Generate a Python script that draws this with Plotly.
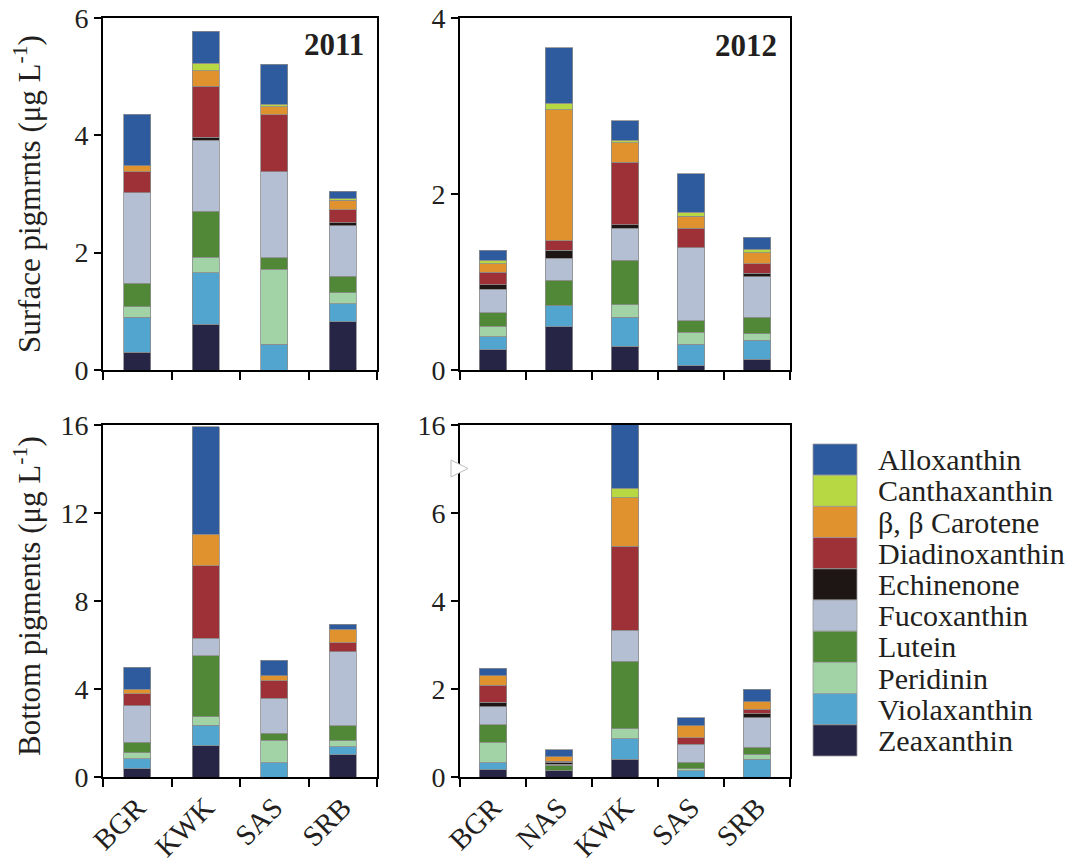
import plotly.graph_objects as go

W, H = 1086, 859

# ---------------- data ----------------
sites_2011 = ["BGR", "KWK", "SAS", "SRB"]
sites_2012 = ["BGR", "NAS", "KWK", "SAS", "SRB"]

# stacking order, bottom -> top
pigments = ["Zeaxanthin", "Violaxanthin", "Peridinin", "Lutein", "Fucoxanthin",
            "Echinenone", "Diadinoxanthin", "β, β Carotene", "Canthaxanthin", "Alloxanthin"]
colors = ["#272546", "#51a5ce", "#a1d3a6", "#508837", "#b4bfd3",
          "#1e1614", "#9e3037", "#e0922f", "#b8d843", "#2d5b9e"]

# rows follow `pigments`, columns follow the site lists (µg/L)
surface_2011 = [
    [0.30, 0.78, 0.00, 0.82],
    [0.60, 0.88, 0.44, 0.31],
    [0.18, 0.26, 1.28, 0.19],
    [0.40, 0.79, 0.19, 0.28],
    [1.54, 1.21, 1.47, 0.86],
    [0.00, 0.05, 0.00, 0.05],
    [0.36, 0.87, 0.97, 0.22],
    [0.10, 0.26, 0.14, 0.16],
    [0.00, 0.13, 0.04, 0.03],
    [0.88, 0.54, 0.68, 0.13],
]
surface_2012 = [
    [0.23, 0.49, 0.27, 0.05, 0.12],
    [0.15, 0.24, 0.33, 0.24, 0.22],
    [0.12, 0.00, 0.14, 0.14, 0.07],
    [0.15, 0.29, 0.51, 0.13, 0.19],
    [0.27, 0.25, 0.36, 0.83, 0.46],
    [0.05, 0.09, 0.04, 0.00, 0.04],
    [0.14, 0.11, 0.71, 0.22, 0.11],
    [0.10, 1.49, 0.22, 0.14, 0.12],
    [0.04, 0.07, 0.03, 0.04, 0.04],
    [0.11, 0.63, 0.22, 0.44, 0.14],
]
bottom_2011 = [
    [0.38, 1.43, 0.00, 1.02],
    [0.46, 0.93, 0.64, 0.35],
    [0.26, 0.37, 1.04, 0.28],
    [0.47, 2.79, 0.30, 0.68],
    [1.66, 0.78, 1.59, 3.37],
    [0.00, 0.00, 0.00, 0.00],
    [0.55, 3.30, 0.81, 0.40],
    [0.20, 1.44, 0.22, 0.61],
    [0.00, 0.00, 0.00, 0.00],
    [1.02, 4.89, 0.70, 0.23],
]
bottom_2012 = [
    [0.17, 0.14, 0.40, 0.00, 0.00],
    [0.15, 0.00, 0.47, 0.14, 0.40],
    [0.47, 0.00, 0.23, 0.05, 0.12],
    [0.40, 0.13, 1.53, 0.14, 0.16],
    [0.41, 0.02, 0.71, 0.41, 0.67],
    [0.10, 0.05, 0.00, 0.00, 0.09],
    [0.39, 0.02, 1.91, 0.15, 0.10],
    [0.21, 0.10, 1.10, 0.27, 0.17],
    [0.00, 0.00, 0.21, 0.00, 0.00],
    [0.17, 0.16, 9.44, 0.19, 0.28],
]

# ---------------- helpers ----------------
OFF = 8  # page body margin in the browser

def px(x):
    return (x - OFF) / W

def py(y):
    return 1 - (y - OFF) / H

FONT = "Liberation Serif, Times New Roman, serif"
TXT = "#231f20"

panels = [
    ("x", "y", sites_2011, surface_2011, 0.39),
    ("x2", "y2", sites_2012, surface_2012, 0.41),
    ("x3", "y3", sites_2011, bottom_2011, 0.39),
    ("x4", "y4", sites_2012, bottom_2012, 0.41),
]

fig = go.Figure()
for xa, ya, cats, rows, bw in panels:
    for name, col, vals in zip(pigments, colors, rows):
        fig.add_trace(go.Bar(
            x=cats, y=vals, name=name, width=bw,
            marker=dict(color=col, line=dict(color="#8c8c8c", width=0.8)),
            xaxis=xa, yaxis=ya, showlegend=False,
        ))

def xax(dom, anchor, ncat, labels):
    return dict(
        domain=dom, anchor=anchor, range=[-0.5, ncat - 0.5],
        showline=True, linecolor="black", linewidth=2, mirror=True,
        ticks="outside", ticklen=8, tickwidth=2, tickcolor="black",
        tickson="boundaries", showgrid=False, zeroline=False,
        showticklabels=labels, tickangle=-45,
        tickfont=dict(family=FONT, size=29, color=TXT),
    )

def yax(dom, anchor, rng, tv, tt=None):
    d = dict(
        domain=dom, anchor=anchor, range=rng, tickvals=tv,
        showline=True, linecolor="black", linewidth=2, mirror=True,
        ticks="outside", ticklen=7, tickwidth=2, tickcolor="black",
        showgrid=False, zeroline=False, ticklabeloverflow="allow",
        tickfont=dict(family=FONT, size=28, color=TXT),
    )
    if tt is not None:
        d["ticktext"] = tt
    return d

xl = [px(103), px(377)]
xr = [px(460), px(790)]
yt = [py(370), py(18)]
yb = [py(777), py(425)]

shapes = []
annotations = []

# break mark on the bottom-right y axis
shapes.append(dict(
    type="path", xref="paper", yref="paper",
    path=f"M {px(451)},{py(460)} L {px(468)},{py(468.5)} L {px(451)},{py(477)} Z",
    fillcolor="white", line=dict(color="#bdbdbd", width=1),
))

# panel year labels
annotations.append(dict(text="<b>2011</b>", x=px(366), y=py(44), xref="paper", yref="paper",
                        xanchor="right", yanchor="middle", showarrow=False,
                        font=dict(family=FONT, size=31, color=TXT)))
annotations.append(dict(text="<b>2012</b>", x=px(779), y=py(45), xref="paper", yref="paper",
                        xanchor="right", yanchor="middle", showarrow=False,
                        font=dict(family=FONT, size=31, color=TXT)))

# y-axis titles
annotations.append(dict(text="Surface pigmrnts (μg L<sup>-1</sup>)", x=px(27), y=py(194),
                        xref="paper", yref="paper", xanchor="center", yanchor="middle",
                        textangle=-90, showarrow=False,
                        font=dict(family=FONT, size=31, color=TXT)))
annotations.append(dict(text="Bottom pigments (μg L<sup>-1</sup>)", x=px(27), y=py(596),
                        xref="paper", yref="paper", xanchor="center", yanchor="middle",
                        textangle=-90, showarrow=False,
                        font=dict(family=FONT, size=31, color=TXT)))

# legend (top item = last stacked pigment)
row_h = 31.2
for i, (name, col) in enumerate(zip(pigments[::-1], colors[::-1])):
    y0 = 444 + row_h * i
    shapes.append(dict(type="rect", xref="paper", yref="paper",
                       x0=px(813), x1=px(857), y0=py(y0 + row_h), y1=py(y0),
                       fillcolor=col, line=dict(color="#9a9a9a", width=0.8)))
    annotations.append(dict(text=name, x=px(876), y=py(y0 + row_h / 2),
                            xref="paper", yref="paper", xanchor="left", yanchor="middle",
                            showarrow=False, font=dict(family=FONT, size=30, color=TXT)))

fig.update_layout(
    width=W, height=H,
    margin=dict(l=0, r=0, t=0, b=0, autoexpand=False),
    paper_bgcolor="white", plot_bgcolor="white",
    barmode="stack",
    showlegend=False,
    xaxis=xax(xl, "y", 4, False),
    xaxis2=xax(xr, "y2", 5, False),
    xaxis3=xax(xl, "y3", 4, True),
    xaxis4=xax(xr, "y4", 5, True),
    yaxis=yax(yt, "x", [0, 6], [0, 2, 4, 6]),
    yaxis2=yax(yt, "x2", [0, 4], [0, 2, 4]),
    yaxis3=yax(yb, "x3", [0, 16], [0, 4, 8, 12, 16]),
    yaxis4=yax(yb, "x4", [0, 8], [0, 2, 4, 6, 8], ["0", "2", "4", "6", "16"]),
    shapes=shapes,
    annotations=annotations,
    font=dict(family=FONT, color=TXT),
)

fig.write_html("out.html")
